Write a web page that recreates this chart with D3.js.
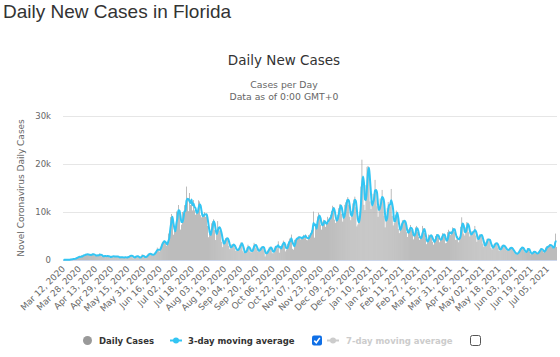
<!DOCTYPE html>
<html><head><meta charset="utf-8">
<script src="https://cdn.jsdelivr.net/npm/d3@7"></script>
<style>body{margin:0;background:#fff;} svg{display:block;}</style>
</head><body>
<svg id="c" width="560" height="357"></svg>
<script>
const startDate = "2020-03-12";
const m2020_03 = [20,35,30,40,60,55,100,130,170,210,250,235,375,500,570,710,740,500,950,880];
const m2020_04 = [1030,1030,1250,1170,1210,1020,1060,1110,1120,1300,1160,900,880,1040,1000,850,1400,1000,770,800,750,900,800,700,980,700,530,630,880,770];
const m2020_05 = [740,620,760,820,640,480,520,700,560,440,570,640,500,430,760,830,790,1000,900,360,550,700,850,790,640,500,370,800,1200,600,640];
const m2020_06 = [670,620,1000,1320,1300,1270,1180,960,1100,1370,1700,1900,2580,2000,1760,2780,3200,3800,3820,4050,3490,2930,3290,5510,5000,8940,9590,8530,5270,6090];
const m2020_07 = [6560,10110,9490,11460,10060,6340,7360,9990,8940,11430,10360,15300,12620,10180,13960,11470,12440,10330,12480,10350,9440,9790,10250,12440,12200,9340,8890,9230,9450,9960,9010];
const m2020_08 = [9640,7100,4750,5450,5410,7650,8040,8500,6230,4160,5830,8110,6240,6150,6350,3780,2680,3840,4120,4560,4680,4310,2970,2260,2670,3270,3220,3200,2580,1890,1950];
const m2020_09 = [2360,2400,3200,3660,3570,1840,1570,1510,1880,2580,3190,2420,1740,1560,2340,2360,3580,3310,2520,2230,1690,1880,2590,2540,2850,2800,1950,740,1490,1950];
const m2020_10 = [1880,2650,2810,2390,1420,1420,2580,2910,2880,2460,3900,1530,2730,2880,3360,4040,3450,1790,2150,3380,3470,4470,3780,5300,2330,2150,4200,4120,4650,4470,4890];
const m2020_11 = [4870,4300,4640,4640,5250,4560,5320,4200,4120,5200,4900,5600,6200,6900,10100,4660,7460,7410,9090,9850,8870,7360,6330,8000,8380,8000,6900,7800,9000,7800];
const m2020_12 = [8900,9400,10200,11300,11000,8400,7700,8500,9400,10800,11600,11600,9600,8000,8700,11500,12000,12600,13100,11500,9000,8300,10200,11800,12600,13200,11000,7000,7400,9200,10100];
const m2021_01 = [15300,20900,16000,11500,10400,15600,19400,19600,18600,12200,10600,11300,13800,13000,16700,14100,11200,9000,11000,12800,11900,14600,12200,9200,6800,8500,10800,12100,11400,11200,14800];
const m2021_02 = [9200,7200,7700,9400,10300,9800,6500,5600,6700,7600,8300,7900,8300,7800,5800,4800,6400,6500,7300,6300,5400,4300,5400,6800,7100,5900,4800,4200];
const m2021_03 = [4900,4500,7100,6600,5600,4500,3300,3700,5300,5100,4900,5300,3800,3200,4300,5000,5400,5200,4600,3700,4400,4900,5600,5400,4900,3500,3600,5800,6300,5300,5200];
const m2021_04 = [6000,6800,6500,5800,4200,4300,5000,3700,4800,6900,8900,7000,5500,5100,6800,7900,7800,5800,4900,5300,6000,5900,5800,7100,5100,3800,4300,5100,5400,5000];
const m2021_05 = [5200,3400,2700,3000,3800,4400,4500,3900,4200,2500,2200,2900,3300,3500,3600,3400,2600,1900,2000,2900,3100,3000,2800,2600,2200,1900,2100,2400,2700,2500,2300];
const m2021_06 = [1900,1600,1300,1200,1400,1700,2000,2500,2600,2700,2300,1700,1500,1800,2500,2500,1700,1200,1300,1500,1900,1700,1400,1300,1400,1700,2100,2400,2400,1900];
const m2021_07 = [1600,1700,2600,2800,2700,2900,3300,3200,2700,2500,2400,3600,5500,2700];

const tickLabels = ["Mar 12, 2020","Mar 28, 2020","Apr 13, 2020","Apr 29, 2020","May 15, 2020","May 31, 2020","Jun 16, 2020","Jul 02, 2020","Jul 18, 2020","Aug 03, 2020","Aug 19, 2020","Sep 04, 2020","Sep 20, 2020","Oct 06, 2020","Oct 22, 2020","Nov 07, 2020","Nov 23, 2020","Dec 09, 2020","Dec 25, 2020","Jan 10, 2021","Jan 26, 2021","Feb 11, 2021","Feb 27, 2021","Mar 15, 2021","Mar 31, 2021","Apr 16, 2021","May 02, 2021","May 18, 2021","Jun 03, 2021","Jun 19, 2021","Jul 05, 2021"];
const yTicks = [0, 10000, 20000, 30000];
const yTickLabels = ["0", "10k", "20k", "30k"];
const pageTitle = "Daily New Cases in Florida";
const chartTitle = "Daily New Cases";
const subtitleLines = ["Cases per Day", "Data as of 0:00 GMT+0"];
const yAxisTitle = "Novel Coronavirus Daily Cases";
const legendItems = ["Daily Cases", "3-day moving average", "7-day moving average"];

const dailyCases = [].concat(m2020_03,m2020_04,m2020_05,m2020_06,m2020_07,m2020_08,m2020_09,m2020_10,m2020_11,m2020_12,m2021_01,m2021_02,m2021_03,m2021_04,m2021_05,m2021_06,m2021_07);
const start = d3.utcParse("%Y-%m-%d")(startDate);
const fmt = d3.utcFormat("%b %d, %Y");
const categories = dailyCases.map((_, i) => fmt(d3.utcDay.offset(start, i)));
const movingAvg3 = dailyCases.map((v, i) => d3.mean(dailyCases.slice(Math.max(0, i - 2), i + 1)));

const FONT = "'DejaVu Sans', Verdana, sans-serif";
const svg = d3.select("#c");
const pLeft = 63, pRight = 557, pTop = 116, pBottom = 260;

const x = d3.scaleBand().domain(categories).range([pLeft, pRight]).paddingInner(0.3).paddingOuter(0.1);
const y = d3.scaleLinear().domain([0, 30000]).range([pBottom, pTop]);

// page title
svg.append("text").attr("x", 3).attr("y", 17.5).text(pageTitle)
  .style("font-family", "'Liberation Sans', Arial, sans-serif").style("font-size", "19px").attr("fill", "#333");

// chart title + subtitle
svg.append("text").attr("x", 284).attr("y", 65).attr("text-anchor", "middle").text(chartTitle)
  .style("font-family", FONT).style("font-size", "13.5px").attr("fill", "#333");
subtitleLines.forEach((t, i) => {
  svg.append("text").attr("x", 284).attr("y", 87.7 + i * 12.3).attr("text-anchor", "middle").text(t)
    .style("font-family", FONT).style("font-size", "9.3px").attr("fill", "#666");
});

// gridlines
svg.append("g").selectAll("line").data(yTicks.filter(d => d > 0)).join("line")
  .attr("x1", pLeft).attr("x2", pRight).attr("y1", d => Math.round(y(d)) + 0.5).attr("y2", d => Math.round(y(d)) + 0.5)
  .attr("stroke", "#e6e6e6").attr("stroke-width", 1);

// y axis
const yAxis = svg.append("g").attr("transform", `translate(${pLeft - 12},0)`)
  .call(d3.axisLeft(y).tickValues(yTicks).tickFormat((d, i) => yTickLabels[i]).tickSize(0).tickPadding(0));
yAxis.select(".domain").remove();
yAxis.selectAll("text").style("font-family", FONT).style("font-size", "8.5px").attr("fill", "#666").attr("dy", "0.35em");

svg.append("text").attr("transform", "translate(24,188) rotate(-90)").attr("text-anchor", "middle").text(yAxisTitle)
  .style("font-family", FONT).style("font-size", "9px").attr("fill", "#666");

// bars
svg.append("g").selectAll("rect").data(dailyCases).join("rect")
  .attr("x", (d, i) => x(categories[i])).attr("width", x.bandwidth())
  .attr("y", d => y(d)).attr("height", d => y(0) - y(d))
  .attr("fill", "#a0a0a0");

// x axis
const xAxis = svg.append("g").attr("transform", `translate(0,${pBottom})`)
  .call(d3.axisBottom(x).tickValues(tickLabels).tickSize(0).tickPadding(0));
xAxis.select(".domain").attr("stroke", "#ccd6eb").attr("d", `M${pLeft},0.5H${pRight}`);
xAxis.selectAll("text").style("font-family", FONT).style("font-size", "8.8px").attr("fill", "#666")
  .attr("text-anchor", "end").attr("dy", null).attr("y", null)
  .attr("transform", "translate(2,9.5) rotate(-45)");

// 3-day moving average line
const line = d3.line().x((d, i) => x(categories[i]) + x.bandwidth() / 2).y(d => y(d)).curve(d3.curveMonotoneX);
svg.append("path").datum(movingAvg3).attr("d", line).attr("fill", "none")
  .attr("stroke", "#33c5f3").attr("stroke-width", 2).attr("stroke-linejoin", "round");

// legend
const lg = svg.append("g");
const ly = 340.5;
lg.append("circle").attr("cx", 87.5).attr("cy", ly).attr("r", 4.5).attr("fill", "#999");
lg.append("text").attr("x", 99).attr("y", ly + 3).text(legendItems[0])
  .style("font-family", FONT).style("font-size", "8.5px").style("font-weight", "bold").attr("fill", "#333");
lg.append("line").attr("x1", 170).attr("x2", 182).attr("y1", ly).attr("y2", ly).attr("stroke", "#33c5f3").attr("stroke-width", 2);
lg.append("circle").attr("cx", 176).attr("cy", ly).attr("r", 3).attr("fill", "#33c5f3");
lg.append("text").attr("x", 188).attr("y", ly + 3).text(legendItems[1])
  .style("font-family", FONT).style("font-size", "8.5px").style("font-weight", "bold").attr("fill", "#333");
// checked box
lg.append("rect").attr("x", 312).attr("y", 335.5).attr("width", 10).attr("height", 10).attr("rx", 2).attr("fill", "#0f6fe6");
lg.append("path").attr("d", "M314.3,340.6 L316.3,342.7 L319.8,337.9").attr("fill", "none").attr("stroke", "#fff").attr("stroke-width", 1.6);
lg.append("line").attr("x1", 327).attr("x2", 339).attr("y1", ly).attr("y2", ly).attr("stroke", "#ccc").attr("stroke-width", 2);
lg.append("circle").attr("cx", 333).attr("cy", ly).attr("r", 3).attr("fill", "#ccc");
lg.append("text").attr("x", 346).attr("y", ly + 3).text(legendItems[2])
  .style("font-family", FONT).style("font-size", "8.5px").style("font-weight", "bold").attr("fill", "#ccc");
lg.append("rect").attr("x", 470.5).attr("y", 335.5).attr("width", 10).attr("height", 10).attr("rx", 2)
  .attr("fill", "#fff").attr("stroke", "#555").attr("stroke-width", 1);
</script>
</body></html>
